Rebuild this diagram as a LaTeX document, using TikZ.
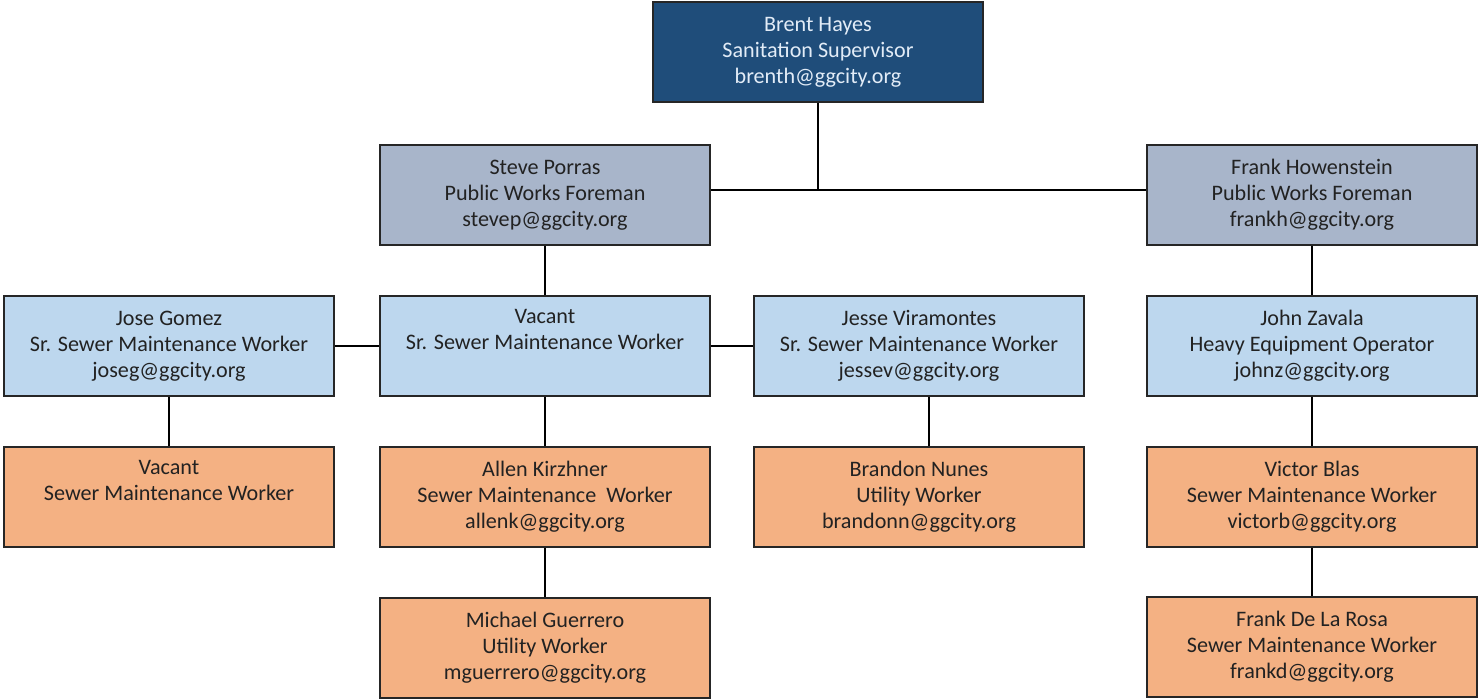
\documentclass[tikz,border=0pt]{standalone}
\usepackage{fontspec}
\setmainfont{Carlito}
\definecolor{topblue}{HTML}{1F4D7A}
\definecolor{foreman}{HTML}{A8B5CA}
\definecolor{senior}{HTML}{BDD7EE}
\definecolor{worker}{HTML}{F4B183}
\definecolor{txtdark}{HTML}{222222}
\definecolor{txtlight}{HTML}{E2ECF7}
\tikzset{
  box/.style={draw=black!85, line width=1.3pt, rectangle, minimum width=247.5pt, minimum height=75pt,
    inner sep=0pt, align=center, font=\fontsize{16.6pt}{19.5pt}\selectfont, text=txtdark},
  topbox/.style={box, fill=topblue, text=txtlight},
  forebox/.style={box, fill=foreman},
  seniorbox/.style={box, fill=senior},
  workerbox/.style={box, fill=worker},
  link/.style={draw=black, line width=2pt}
}
\begin{document}
\begin{tikzpicture}[x=0.75pt,y=-0.75pt]
\useasboundingbox (0,0) rectangle (1479,700);
\node[topbox] (brent) at (818,52) {Brent Hayes\\Sanitation Supervisor\\brenth@ggcity.org};
\node[forebox] (steve) at (545,195) {Steve Porras\\Public Works Foreman\\stevep@ggcity.org};
\node[forebox] (frankh) at (1312,195) {Frank Howenstein\\Public Works Foreman\\frankh@ggcity.org};
\node[seniorbox] (jose) at (169,346) {Jose Gomez\\Sr. Sewer Maintenance Worker\\joseg@ggcity.org};
\node[seniorbox] (vacsr) at (545,346) {Vacant\\Sr. Sewer Maintenance Worker\\\strut};
\node[seniorbox] (jesse) at (919,346) {Jesse Viramontes\\Sr. Sewer Maintenance Worker\\jessev@ggcity.org};
\node[seniorbox] (john) at (1312,346) {John Zavala\\Heavy Equipment Operator\\johnz@ggcity.org};
\node[workerbox] (vacw) at (169,497) {Vacant\\Sewer Maintenance Worker\\\strut};
\node[workerbox] (allen) at (545,497) {Allen Kirzhner\\Sewer Maintenance\ \ Worker\\allenk@ggcity.org};
\node[workerbox] (brandon) at (919,497) {Brandon Nunes\\Utility Worker\\brandonn@ggcity.org};
\node[workerbox] (victor) at (1312,497) {Victor Blas\\Sewer Maintenance Worker\\victorb@ggcity.org};
\node[workerbox] (michael) at (545,648) {Michael Guerrero\\Utility Worker\\mguerrero@ggcity.org};
\node[workerbox] (frankd) at (1312,647) {Frank De La Rosa\\Sewer Maintenance Worker\\frankd@ggcity.org};
\coordinate (bus) at (818,190);
\draw[link] ([yshift=3.75pt]steve.east) -- ([yshift=3.75pt]frankh.west);
\draw[link] (brent.south) -- (bus);
\draw[link] (steve.south) -- (vacsr.north);
\draw[link] (jose.east) -- (vacsr.west);
\draw[link] (vacsr.east) -- (jesse.west);
\draw[link] (frankh.south) -- (john.north);
\draw[link] (jose.south) -- (vacw.north);
\draw[link] (vacsr.south) -- (allen.north);
\draw[link] (allen.south) -- (michael.north);
\draw[link] ([xshift=7.5pt]jesse.south) -- ([xshift=7.5pt]brandon.north);
\draw[link] (john.south) -- (victor.north);
\draw[link] (victor.south) -- (frankd.north);
\end{tikzpicture}
\end{document}
